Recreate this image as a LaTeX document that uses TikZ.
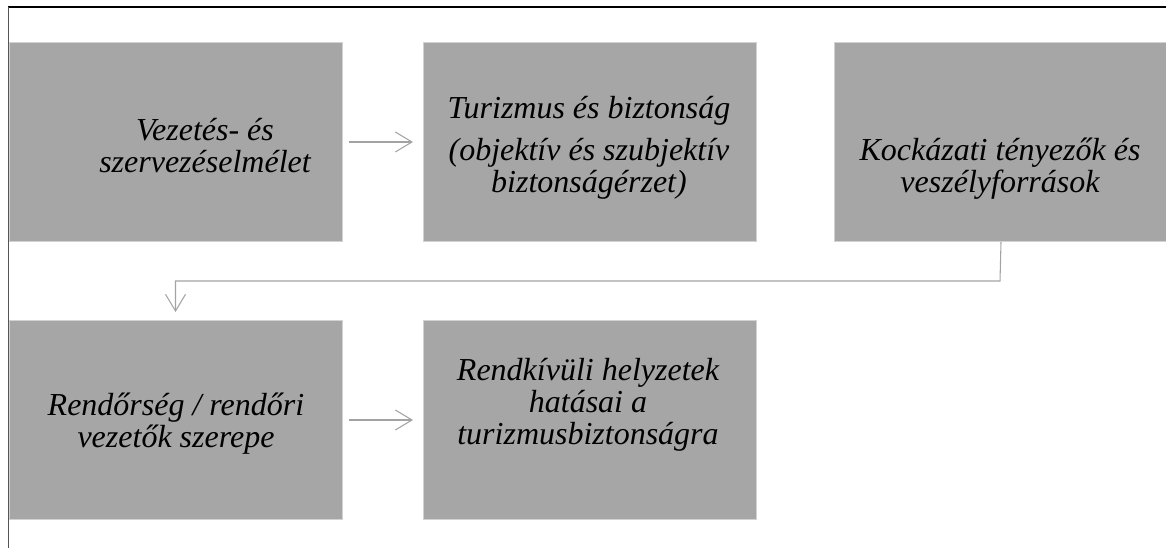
\documentclass[tikz,border=0pt]{standalone}
\usepackage{fontspec}
\setmainfont{Liberation Serif}
\usetikzlibrary{arrows.meta}
\definecolor{boxfill}{HTML}{A6A6A6}
\definecolor{boxedge}{HTML}{D2D2D2}
\definecolor{connc}{HTML}{A3A3A3}
\definecolor{sidec}{HTML}{555555}
\begin{document}
\begin{tikzpicture}[x=0.75pt,y=-0.75pt,
  box/.style={draw=boxedge, fill=boxfill, line width=0.75pt, anchor=north west,
    minimum width=249.75pt, minimum height=149.25pt, inner sep=0pt},
  txt/.style={align=center, inner sep=0pt, font=\fontsize{24}{24}\selectfont\itshape},
  conn/.style={draw=connc, line width=0.8pt,
    -{Straight Barb[length=12.5pt,width=15pt,line width=0.8pt]}}]
\useasboundingbox (0,0) rectangle (1166,548);
\draw[line width=1.5pt, black] (8,7.5) -- (1166,7.5);
\draw[line width=1.1pt, sidec] (8.5,7.5) -- (8.5,548);
\node[box] (b1) at (8.5,42) {};
\node[box] (b2) at (423,42) {};
\node[box] (b3) at (834,42) {};
\node[box] (b4) at (8.5,320) {};
\node[box] (b5) at (423,320) {};
\node[txt] (t1) at (205,146) {Vezetés- és\\szervezéselmélet};
\node[txt] (t2) at (589,148) {Turizmus és biztonság\\[7.5pt](objektív és szubjektív\\biztonságérzet)};
\node[txt] (t3) at (1000,169) {Kockázati tényezők és\\veszélyforrások};
\node[txt] (t4) at (176,424) {Rendőrség / rendőri\\vezetők szerepe};
\node[txt] (t5) at (588,405) {Rendkívüli helyzetek\\hatásai a\\turizmusbiztonságra};
\draw[conn, shorten <=4.5pt, shorten >=7.5pt] (b1.east) -- (b2.west);
\draw[conn, shorten <=4.5pt, shorten >=7.5pt] (b4.east) -- (b5.west);
\coordinate (e) at (1000,281);
\draw[conn, shorten >=6pt] (b3.south) -- (e) -| (b4.north);
\end{tikzpicture}
\end{document}
